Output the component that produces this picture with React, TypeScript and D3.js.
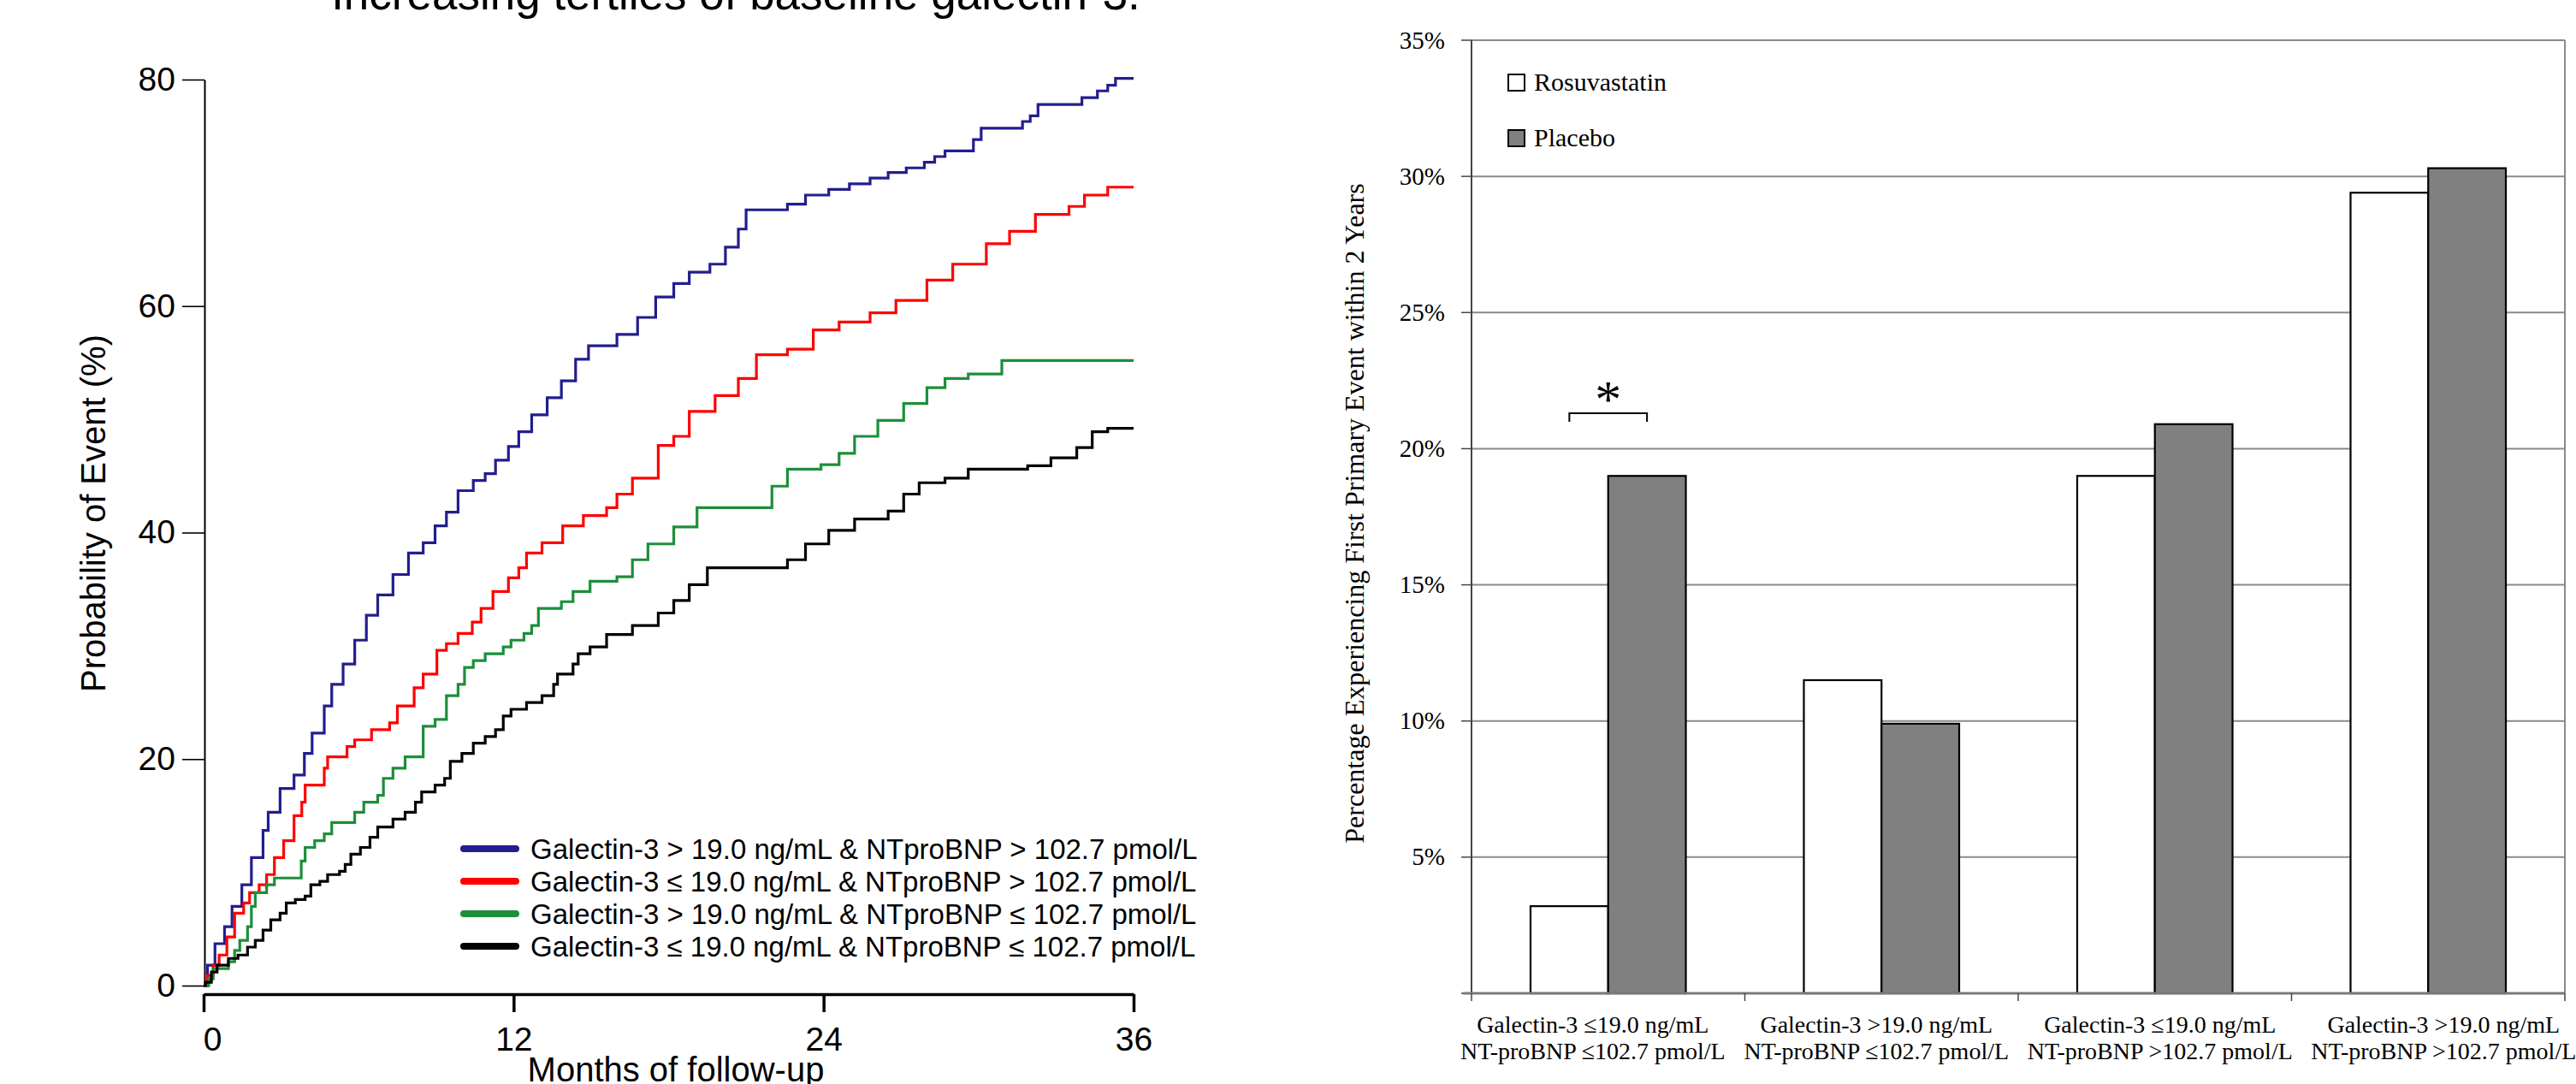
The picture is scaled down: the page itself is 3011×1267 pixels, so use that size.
import React, { useRef, useEffect } from "react";
import * as d3 from "d3";

// ---- left panel: cumulative probability of event (step curves) ----
const month_ticks = [0, 12, 24, 36];
const prob_ticks = [0, 20, 40, 60, 80];

const curve_names = [
	"Galectin-3 > 19.0 ng/mL & NTproBNP > 102.7 pmol/L",
	"Galectin-3 \u2264 19.0 ng/mL & NTproBNP > 102.7 pmol/L",
	"Galectin-3 > 19.0 ng/mL & NTproBNP \u2264 102.7 pmol/L",
	"Galectin-3 \u2264 19.0 ng/mL & NTproBNP \u2264 102.7 pmol/L",
];
const curve_colors = ["#221e8e", "#ff0000", "#1b8f3a", "#000000"];

// [month, probability %]
const blue_curve = [[0,0],[0.15,1.8],[0.44,3.7],[0.81,5.2],[1.1,7.0],[1.48,8.9],[1.85,11.3],[2.3,13.7],[2.5,15.3],[2.96,17.4],[3.5,18.6],[3.9,20.5],[4.2,22.3],[4.67,24.7],[4.96,26.6],[5.4,28.4],[5.85,30.5],[6.3,32.7],[6.74,34.5],[7.33,36.3],[7.93,38.2],[8.5,39.1],[8.96,40.6],[9.4,41.8],[9.85,43.7],[10.44,44.6],[10.9,45.2],[11.3,46.4],[11.8,47.6],[12.2,48.9],[12.7,50.4],[13.3,51.9],[13.85,53.4],[14.4,55.3],[14.9,56.5],[16.0,57.5],[16.8,59.0],[17.5,60.8],[18.2,62.0],[18.8,63.0],[19.6,63.7],[20.2,65.2],[20.7,66.8],[21.0,68.5],[22.6,69.0],[23.3,69.8],[24.2,70.3],[25.0,70.8],[25.8,71.3],[26.5,71.8],[27.2,72.2],[27.9,72.7],[28.3,73.2],[28.7,73.7],[29.8,74.7],[30.1,75.7],[31.7,76.3],[32.0,76.8],[32.3,77.8],[34.0,78.4],[34.6,79.0],[35.0,79.5],[35.3,80.1],[36,80.1]];
const red_curve = [[0,0],[0.15,0.9],[0.37,1.8],[0.6,2.7],[0.9,4.3],[1.2,6.4],[1.55,7.3],[1.78,8.2],[2.15,8.9],[2.44,9.8],[2.74,11.3],[3.1,12.8],[3.5,15.0],[3.8,16.2],[3.93,17.7],[4.67,19.2],[4.8,20.2],[5.55,21.1],[5.85,21.7],[6.5,22.6],[7.2,23.2],[7.5,24.7],[8.15,26.3],[8.5,27.5],[9.03,29.6],[9.4,30.2],[9.85,31.1],[10.4,32.1],[10.74,33.3],[11.2,34.8],[11.8,36.0],[12.2,36.9],[12.5,38.2],[13.1,39.1],[13.9,40.6],[14.7,41.5],[15.6,42.2],[16.0,43.4],[16.6,44.8],[17.6,47.7],[18.2,48.5],[18.8,50.7],[19.8,52.1],[20.7,53.6],[21.4,55.7],[22.6,56.2],[23.6,57.9],[24.6,58.6],[25.8,59.4],[26.8,60.5],[28.0,62.3],[29.0,63.7],[30.3,65.5],[31.2,66.6],[32.2,68.1],[33.5,68.8],[34.1,69.8],[35.0,70.5],[36,70.5]];
const green_curve = [[0,0],[0.2,0.6],[0.37,1.5],[0.96,2.1],[1.2,3.1],[1.4,4.0],[1.7,5.2],[1.85,7.0],[2.0,8.2],[2.44,8.9],[2.74,9.5],[3.78,11.0],[3.93,12.2],[4.3,12.8],[4.67,13.4],[4.96,14.4],[5.85,15.3],[6.2,16.2],[6.74,16.8],[6.96,18.3],[7.33,19.2],[7.8,20.2],[8.5,22.9],[8.96,23.5],[9.4,25.6],[9.85,26.6],[10.1,28.1],[10.44,28.7],[10.9,29.3],[11.6,29.9],[11.9,30.5],[12.4,31.1],[12.7,31.8],[12.96,33.3],[13.85,33.9],[14.3,34.8],[14.96,35.7],[16.0,36.1],[16.6,37.6],[17.2,39.0],[18.2,40.5],[19.1,42.2],[22.0,44.1],[22.6,45.6],[23.9,46.0],[24.6,47.0],[25.2,48.5],[26.1,49.9],[27.1,51.4],[28.0,52.8],[28.7,53.6],[29.6,54.0],[30.9,55.2],[36,55.2]];
const black_curve = [[0,0],[0.07,0.3],[0.3,1.2],[0.52,1.8],[0.96,2.4],[1.33,2.7],[1.7,3.4],[2.0,4.0],[2.3,4.9],[2.6,5.8],[2.96,6.4],[3.2,7.3],[3.55,7.6],[3.93,7.9],[4.15,8.9],[4.5,9.2],[4.8,9.8],[5.26,10.1],[5.48,10.7],[5.7,11.6],[6.07,12.2],[6.44,13.1],[6.74,14.0],[7.33,14.7],[7.8,15.3],[8.2,16.2],[8.44,17.1],[8.96,17.7],[9.33,18.3],[9.55,19.8],[10.0,20.5],[10.44,21.4],[10.9,22.0],[11.3,22.6],[11.6,23.8],[11.9,24.4],[12.5,25.0],[13.1,25.6],[13.55,26.6],[13.7,27.5],[14.3,28.4],[14.5,29.3],[14.96,29.9],[15.6,31.0],[16.6,31.8],[17.6,32.9],[18.2,34.0],[18.8,35.4],[19.5,36.9],[22.6,37.6],[23.3,39.0],[24.2,40.2],[25.2,41.2],[26.5,41.9],[27.1,43.4],[27.7,44.4],[28.7,44.8],[29.6,45.6],[31.9,45.9],[32.8,46.6],[33.8,47.5],[34.4,48.9],[35.0,49.2],[36,49.2]];

// ---- right panel: bars ----
const group_labels = [
	["Galectin-3 \u226419.0 ng/mL", "NT-proBNP \u2264102.7 pmol/L"],
	["Galectin-3 >19.0 ng/mL", "NT-proBNP \u2264102.7 pmol/L"],
	["Galectin-3 \u226419.0 ng/mL", "NT-proBNP >102.7 pmol/L"],
	["Galectin-3 >19.0 ng/mL", "NT-proBNP >102.7 pmol/L"],
];
const series_names = ["Rosuvastatin", "Placebo"];
const series_fill = ["#ffffff", "#808080"];
const rosuvastatin_values = [3.2, 11.5, 19.0, 29.4];
const placebo_values = [19.0, 9.9, 20.9, 30.3];
const pct_ticks = [0, 5, 10, 15, 20, 25, 30, 35];
const star_level = 21.3;

const SANS = "'Liberation Sans', Arial, sans-serif";
const SERIF = "'Liberation Serif', 'Times New Roman', serif";

const App = () => {
	const chart_svg = useRef(null);
	const width = 3011;
	const height = 1267;

	useEffect(() => {
		const svg = d3.select(chart_svg.current);
		svg.selectChildren().remove();

		// ================= left chart =================
		const x_scale = d3.scaleLinear().domain([0, 36]).range([238, 1325]);
		const y_scale = d3.scaleLinear().domain([0, 80]).range([1152, 93]);

		const left = svg.append("g").style("font-family", SANS);

		// title (cut by the top edge)
		left.append("text")
			.attr("x", 860).attr("y", 11)
			.attr("text-anchor", "middle")
			.style("font-size", "53px")
			.text("Increasing tertiles of baseline galectin-3.");

		const y_axis = d3.axisLeft(y_scale).tickValues(prob_ticks).tickSize(26).tickSizeOuter(0).tickPadding(8);
		const gy = left.append("g").attr("transform", `translate(239, 0)`).call(y_axis);
		gy.select(".domain").attr("stroke-width", 2);
		gy.selectAll(".tick line").attr("stroke-width", 1.6);
		gy.selectAll(".tick text").style("font-size", "39px").style("font-family", SANS);

		const x_axis = d3.axisBottom(x_scale).tickValues(month_ticks).tickSize(21).tickSizeOuter(0).tickPadding(17);
		const gx = left.append("g").attr("transform", `translate(0, 1162)`).call(x_axis);
		gx.select(".domain").attr("stroke-width", 3.5);
		gx.selectAll(".tick line").attr("stroke-width", 3.5);
		gx.selectAll(".tick text").style("font-size", "39px").style("font-family", SANS)
			.attr("dx", d => (d === 0 ? 10 : 0));

		// axis titles
		left.append("text")
			.attr("transform", `translate(123, 600) rotate(-90)`)
			.attr("text-anchor", "middle")
			.style("font-size", "40px")
			.text("Probability of Event (%)");
		left.append("text")
			.attr("x", 790).attr("y", 1264)
			.attr("text-anchor", "middle")
			.style("font-size", "40px")
			.text("Months of follow-up");

		// step curves
		const curves = [blue_curve, red_curve, green_curve, black_curve];
		const step_line = d3.line()
			.x(d => x_scale(d[0]))
			.y(d => y_scale(d[1]))
			.curve(d3.curveStepAfter);
		for (let i = 0; i < curves.length; i++) {
			left.append("path")
				.datum(curves[i])
				.attr("fill", "none")
				.attr("stroke", curve_colors[i])
				.attr("stroke-width", 3.2)
				.attr("d", step_line);
		}

		// legend
		const legend = left.append("g");
		curve_names.forEach((name, i) => {
			const yy = 992 + i * 38;
			legend.append("line")
				.attr("x1", 542).attr("x2", 603)
				.attr("y1", yy).attr("y2", yy)
				.attr("stroke", curve_colors[i])
				.attr("stroke-width", 8)
				.attr("stroke-linecap", "round");
			legend.append("text")
				.attr("x", 620).attr("y", yy)
				.attr("dy", "0.36em")
				.style("font-size", "33px")
				.text(name);
		});

		// ================= right chart =================
		const right = svg.append("g").style("font-family", SERIF);
		const group_keys = group_labels.map((d, i) => "g" + i);
		const x_group = d3.scaleBand().domain(group_keys).range([1720, 2998]).padding(0);
		const x_series = d3.scaleBand().domain(series_names).range([0, x_group.bandwidth()]).paddingInner(0).paddingOuter(0.76);
		const y_pct = d3.scaleLinear().domain([0, 35]).range([1161, 47]);

		// gridlines
		pct_ticks.filter(t => t > 0).forEach(t => {
			right.append("line")
				.attr("x1", 1720).attr("x2", 2998)
				.attr("y1", y_pct(t)).attr("y2", y_pct(t))
				.attr("stroke", "#8a8a8a").attr("stroke-width", 2);
		});
		// plot border (right side)
		right.append("line")
			.attr("x1", 2998).attr("x2", 2998)
			.attr("y1", y_pct(35)).attr("y2", y_pct(0))
			.attr("stroke", "#8a8a8a").attr("stroke-width", 2);

		// bars
		const series_values = [rosuvastatin_values, placebo_values];
		group_keys.forEach((g, gi) => {
			series_names.forEach((s, si) => {
				const v = series_values[si][gi];
				right.append("rect")
					.attr("x", x_group(g) + x_series(s))
					.attr("y", y_pct(v))
					.attr("width", x_series.bandwidth())
					.attr("height", y_pct(0) - y_pct(v))
					.attr("fill", series_fill[si])
					.attr("stroke", "#000")
					.attr("stroke-width", 2.2);
			});
		});

		// y axis with ticks
		right.append("line")
			.attr("x1", 1720).attr("x2", 1720)
			.attr("y1", y_pct(35)).attr("y2", y_pct(0))
			.attr("stroke", "#444").attr("stroke-width", 2);
		pct_ticks.forEach(t => {
			right.append("line")
				.attr("x1", 1708).attr("x2", 1720)
				.attr("y1", y_pct(t)).attr("y2", y_pct(t))
				.attr("stroke", "#444").attr("stroke-width", 1.5);
			if (t > 0) {
				right.append("text")
					.attr("x", 1689).attr("y", y_pct(t))
					.attr("dy", "0.33em")
					.attr("text-anchor", "end")
					.style("font-size", "29px")
					.text(t + "%");
			}
		});

		// baseline and category ticks
		right.append("line")
			.attr("x1", 1710).attr("x2", 2998)
			.attr("y1", y_pct(0)).attr("y2", y_pct(0))
			.attr("stroke", "#7a7a7a").attr("stroke-width", 3);
		const bounds = group_keys.map(g => x_group(g)).concat([x_group.range()[1]]);
		bounds.forEach(bx => {
			right.append("line")
				.attr("x1", bx).attr("x2", bx)
				.attr("y1", y_pct(0)).attr("y2", y_pct(0) + 9)
				.attr("stroke", "#444").attr("stroke-width", 1.5);
		});

		// category labels (spread slightly wider than the bands, as in the original)
		group_keys.forEach((g, gi) => {
			const cx = x_group(g) + x_group.bandwidth() / 2 + (gi - 1.5) * 12;
			group_labels[gi].forEach((line, li) => {
				right.append("text")
					.attr("x", cx).attr("y", 1207 + li * 31)
					.attr("text-anchor", "middle")
					.style("font-size", "28px")
					.text(line);
			});
		});

		// y axis title
		right.append("text")
			.attr("transform", `translate(1594, 600) rotate(-90)`)
			.attr("text-anchor", "middle")
			.style("font-size", "32px")
			.text("Percentage Experiencing First Primary Event within 2 Years");

		// legend
		series_names.forEach((s, si) => {
			const yy = 87 + si * 65;
			right.append("rect")
				.attr("x", 1763).attr("y", yy)
				.attr("width", 19).attr("height", 19)
				.attr("fill", series_fill[si])
				.attr("stroke", "#000").attr("stroke-width", 2);
			right.append("text")
				.attr("x", 1793).attr("y", yy + 19)
				.style("font-size", "30px")
				.text(s);
		});

		// significance bracket over the first group
		const bx1 = x_group(group_keys[0]) + x_series(series_names[0]) + x_series.bandwidth() / 2;
		const bx2 = x_group(group_keys[0]) + x_series(series_names[1]) + x_series.bandwidth() / 2;
		const by = y_pct(star_level);
		right.append("path")
			.attr("d", `M${bx1},${by + 10}V${by}H${bx2}V${by + 10}`)
			.attr("fill", "none")
			.attr("stroke", "#000")
			.attr("stroke-width", 2);
		right.append("text")
			.attr("x", (bx1 + bx2) / 2).attr("y", by + 4)
			.attr("text-anchor", "middle")
			.style("font-size", "62px")
			.text("*");
	});

	return (
		<div className="chart">
			<svg ref={chart_svg} width={width} height={height}
				style={{ position: "absolute", left: 0, top: 0, background: "#fff" }}>
			</svg>
		</div>
	);
};

export default App;
